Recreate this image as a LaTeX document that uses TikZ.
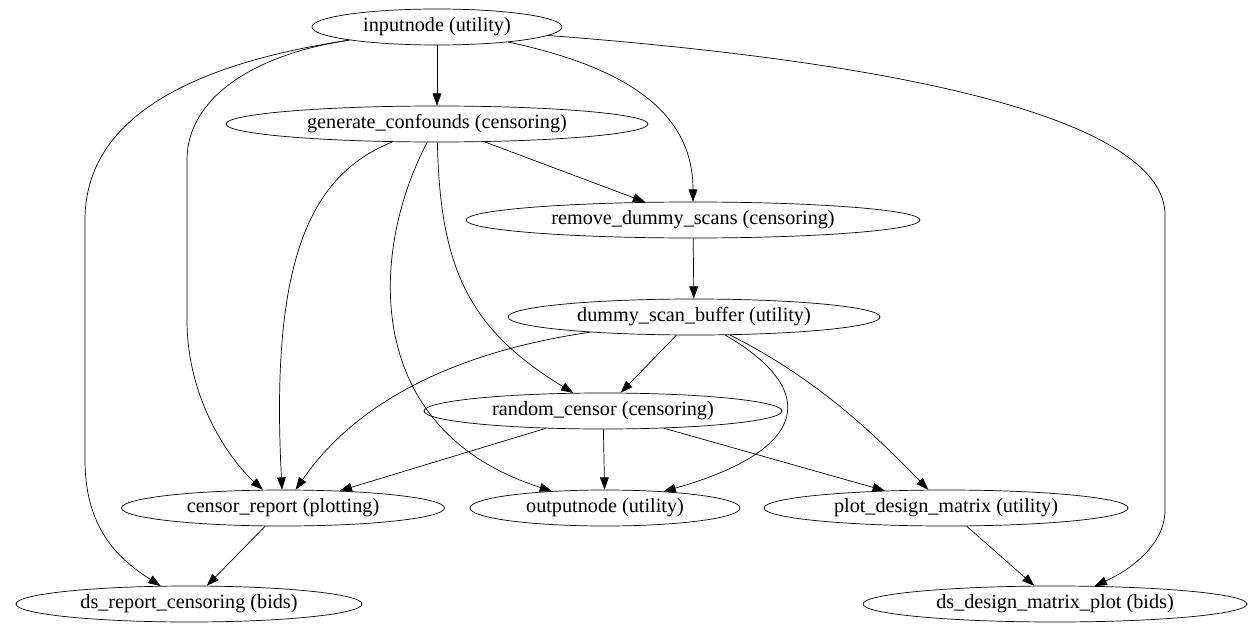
\documentclass[tikz,border=0pt]{standalone}
\usepackage{fontspec}
\setmainfont{Liberation Serif}
\usetikzlibrary{shapes.geometric,arrows.meta}

\begin{document}
\begin{tikzpicture}[x=0.02cm,y=-0.02cm,>={Triangle[length=7pt,width=5pt]},
    every edge/.style={draw,->}]
    \tikzstyle{proc}=[ellipse,draw,inner sep=0pt,minimum height=36*0.02cm,font=\fontsize{11.5}{13}\selectfont]
    \tikzstyle{link}=[draw,->]
    \useasboundingbox (0,0) rectangle (1253,635);

    % Nodes of the workflow
    \node[proc,minimum width=250*0.02cm] (in) at (437,27) {inputnode (utility)};
    \node[proc,minimum width=422*0.02cm] (gc) at (437,124) {generate\_confounds (censoring)};
    \node[proc,minimum width=454*0.02cm] (rds) at (693,220) {remove\_dummy\_scans (censoring)};
    \node[proc,minimum width=372*0.02cm] (dsb) at (694,317) {dummy\_scan\_buffer (utility)};
    \node[proc,minimum width=358*0.02cm] (rc) at (603,411) {random\_censor (censoring)};
    \node[proc,minimum width=323*0.02cm] (cr) at (283,508) {censor\_report (plotting)};
    \node[proc,minimum width=270*0.02cm] (out) at (605,508) {outputnode (utility)};
    \node[proc,minimum width=364*0.02cm] (pdm) at (946,508) {plot\_design\_matrix (utility)};
    \node[proc,minimum width=346*0.02cm] (dsr) at (189,604) {ds\_report\_censoring (bids)};
    \node[proc,minimum width=384*0.02cm] (ddmp) at (1055,604) {ds\_design\_matrix\_plot (bids)};

    % Straight connections
    \path (in) edge (gc)
          (gc) edge (rds)
          (rds) edge (dsb)
          (dsb) edge (rc)
          (rc) edge (cr)
          (rc) edge (out)
          (rc) edge (pdm)
          (cr) edge (dsr)
          (pdm) edge (ddmp);

    % Curved connections from the input node
    \draw[link] (in) .. controls (640,70) and (693,120) .. (rds);
    \draw[link] (in) .. controls (1000,70) and (1165,140) .. (1165,215) -- (1165,510) .. controls (1165,545) and (1130,570) .. (ddmp);
    \draw[link] (in) .. controls (250,55) and (187,100) .. (187,160) -- (187,320) .. controls (187,400) and (230,460) .. (cr);
    \draw[link] (in) .. controls (150,70) and (85,140) .. (85,220) -- (85,460) .. controls (85,530) and (120,560) .. (dsr);

    % Curved connections from the confounds and the buffer
    \draw[link] (gc) .. controls (310,175) and (270,260) .. (cr);
    \draw[link] (gc) .. controls (370,250) and (360,430) .. (out);
    \draw[link] (gc) .. controls (440,270) and (470,330) .. (rc);
    \draw[link] (dsb) .. controls (400,360) and (330,440) .. (cr);
    \draw[link] (dsb) .. controls (820,390) and (810,450) .. (out);
    \draw[link] (dsb) .. controls (820,380) and (880,440) .. (pdm);
\end{tikzpicture}
\end{document}
